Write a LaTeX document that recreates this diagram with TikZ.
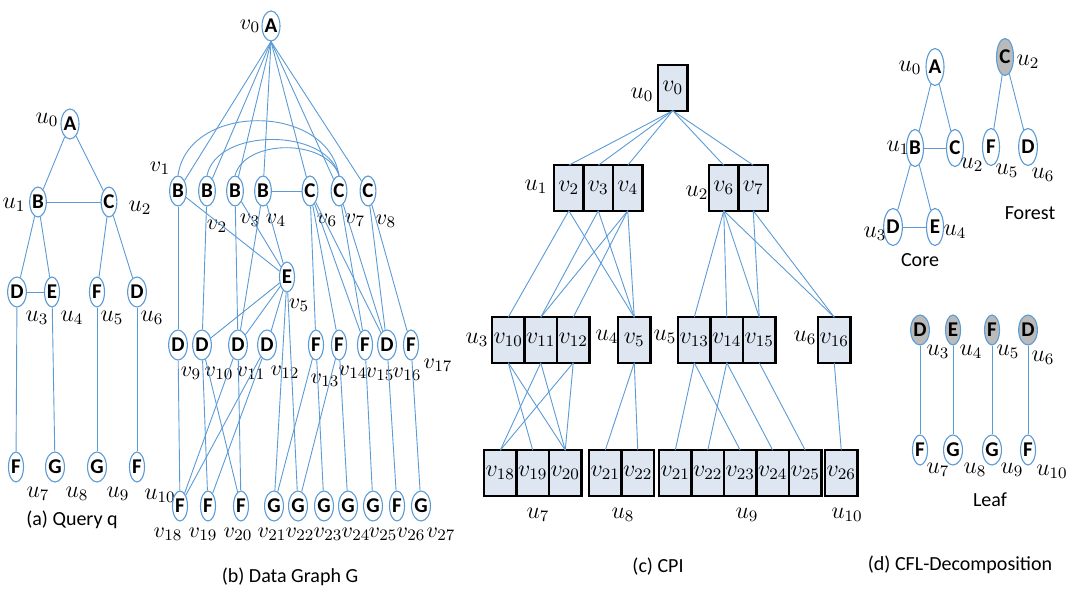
\documentclass[tikz,border=0pt]{standalone}
\usepackage{fontspec}
\setmainfont{Carlito}
\usetikzlibrary{positioning,shapes.geometric}
\definecolor{lineblue}{RGB}{91,155,213}
\definecolor{boxfill}{RGB}{221,230,241}
\tikzset{
  vtx/.style={ellipse,draw=lineblue,line width=.55pt,fill=white,inner sep=0pt,
    minimum width=7.5pt,minimum height=15pt,font=\fontsize{10.5}{11}\selectfont\bfseries},
  big/.style={minimum width=8.5pt,minimum height=18.5pt},
  dark/.style={fill=black!27},
  link/.style={draw=lineblue,line width=.45pt},
  lbl/.style={inner sep=0pt,font=\fontsize{11.5}{12}\selectfont},
  small/.style={font=\fontsize{10.8}{12}\selectfont},
  cand/.style={draw,line width=1.2pt,fill=boxfill,minimum width=16.25pt,minimum height=22.75pt,
    inner sep=0pt,outer sep=0pt,font=\fontsize{11.5}{12}\selectfont},
  slim/.style={minimum width=14.75pt},
  startpt/.style={inner sep=0pt,outer sep=0pt},
  title/.style={font=\fontsize{10}{12}\selectfont}
}
\begin{document}
\begin{tikzpicture}[x=.5pt,y=-.5pt]
\useasboundingbox (0,0) rectangle (1068,592);

% (a) query
\foreach \x/\y/\t[count=\i from 0] in {70/124/A,38/202/B,109/202/C,17/292/D,52/292/E,97/292/F,137/292/D,16/467/F,55/467/G,97/467/G,137/467/F}
  \node[vtx](q\i) at(\x,\y){\t};
\foreach \x/\y[count=\i from 0] in {47/120,14/205,140/208,37/318,72/318,112/318,152/318,38/494,77/494,118/494,160/496}
  \node[lbl](qu\i) at(\x,\y){$u_{\i}$};
\foreach \a/\b in {0/1,0/2,1/2,1/3,1/4,3/4,2/5,2/6,3/7,4/8,5/9,6/10}
  \draw[link](q\a)--(q\b);
\node[title](qcap) at(72,520){(a) Query q};

% (b) data graph
\foreach \i/\x/\y/\t in {0/271/26/A,1/178/191/B,2/207/191/B,3/235/191/B,4/263/191/B,5/287/277/E,6/310/191/C,7/339/191/C,8/368/191/C}
  \node[vtx](g\i) at(\x,\y){\t};
\foreach \x/\t[count=\i from 9] in {178/D,202/D,238/D,267/D,316/F,339/F,365/F,387/D,411/F}
  \node[vtx](g\i) at(\x,345){\t};
\foreach \x/\t[count=\i from 18] in {180/F,208/F,241/F,274/G,298/G,324/G,348/G,373/G,397/F,421/G}
  \node[vtx](g\i) at(\x,506){\t};
\foreach \i/\x/\y in {0/250/26,1/160/168,2/217/226,3/250/220,4/276/220,5/299/305,6/327/220,7/355/220,8/386/221,
    9/191/373,10/219/373,11/251/373,12/285/372,13/325/380,14/353/372,15/380/374,16/407/374,17/438/365,
    18/168/534,19/203/534,20/238/534,21/272/534,22/300/534,23/328/534,24/356/534,25/383/534,26/411/534,27/441/534}
  \node[lbl,small](gv\i) at(\x,\y){$v_{\i}$};
\foreach \b in {1,2,3,4,6,7,8}
  \draw[link](g0.south)--(g\b);
\foreach \a/\h in {1/73,2/48,3/37}
  \draw[link](g\a.north)..controls +(10,-\h) and +(-12,-\h)..(g7.north);
\foreach \a/\b in {4/6,1/9,1/5,2/10,3/11,3/5,4/11,4/5,5/10,5/11,5/12,5/21,5/22,6/13,6/14,6/15,6/16,7/15,7/16,8/16,8/17,
    9/18,10/19,10/20,11/18,11/20,12/18,12/19,13/21,13/23,14/22,14/24,15/25,16/26,17/27}
  \draw[link](g\a)--(g\b);
\node[title](gcap) at(290,577){(b) Data Graph G};

% (c) CPI
\node[startpt](c0-0) at(657,88){};
\foreach \v[count=\i from 0,evaluate=\i as\j using int(\i+1)] in {0}
  \node at(c0-\i.east)[cand,slim,anchor=west](c0-\j){$v_{\v}$};
\node[startpt](c1-0) at(553,188){};
\foreach \v[count=\i from 0,evaluate=\i as\j using int(\i+1)] in {2,3,4}
  \node at(c1-\i.east)[cand,slim,anchor=west](c1-\j){$v_{\v}$};
\node[startpt](c2-0) at(708,188){};
\foreach \v[count=\i from 0,evaluate=\i as\j using int(\i+1)] in {6,7}
  \node at(c2-\i.east)[cand,slim,anchor=west](c2-\j){$v_{\v}$};
\node[startpt](c3-0) at(491,340){};
\foreach \v[count=\i from 0,evaluate=\i as\j using int(\i+1)] in {10,11,12}
  \node at(c3-\i.east)[cand,anchor=west](c3-\j){$v_{\v}$};
\node[startpt](c4-0) at(617,340){};
\foreach \v[count=\i from 0,evaluate=\i as\j using int(\i+1)] in {5}
  \node at(c4-\i.east)[cand,anchor=west](c4-\j){$v_{\v}$};
\node[startpt](c5-0) at(677,340){};
\foreach \v[count=\i from 0,evaluate=\i as\j using int(\i+1)] in {13,14,15}
  \node at(c5-\i.east)[cand,anchor=west](c5-\j){$v_{\v}$};
\node[startpt](c6-0) at(817,340){};
\foreach \v[count=\i from 0,evaluate=\i as\j using int(\i+1)] in {16}
  \node at(c6-\i.east)[cand,anchor=west](c6-\j){$v_{\v}$};
\node[startpt](c7-0) at(483,473){};
\foreach \v[count=\i from 0,evaluate=\i as\j using int(\i+1)] in {18,19,20}
  \node at(c7-\i.east)[cand,anchor=west](c7-\j){$v_{\v}$};
\node[startpt](c8-0) at(588,473){};
\foreach \v[count=\i from 0,evaluate=\i as\j using int(\i+1)] in {21,22}
  \node at(c8-\i.east)[cand,anchor=west](c8-\j){$v_{\v}$};
\node[startpt](c9-0) at(658,473){};
\foreach \v[count=\i from 0,evaluate=\i as\j using int(\i+1)] in {21,22,23,24,25}
  \node at(c9-\i.east)[cand,anchor=west](c9-\j){$v_{\v}$};
\node[startpt](c10-0) at(824,473){};
\foreach \v[count=\i from 0,evaluate=\i as\j using int(\i+1)] in {26}
  \node at(c10-\i.east)[cand,anchor=west](c10-\j){$v_{\v}$};
\foreach \a/\b in {0-1/1-1,0-1/1-2,0-1/1-3,0-1/2-1,0-1/2-2,1-1/3-1,1-1/4-1,1-2/3-2,1-2/4-1,1-3/3-2,1-3/3-3,1-3/4-1,
    2-1/5-1,2-1/5-2,2-1/5-3,2-1/6-1,2-2/5-3,2-2/6-1,3-1/7-2,3-1/7-3,3-2/7-1,3-2/7-3,3-3/7-1,3-3/7-3,
    4-1/8-1,4-1/8-2,5-1/9-1,5-1/9-3,5-2/9-2,5-2/9-4,5-3/9-5,6-1/10-1}
  \draw[link](c\a.south)--(c\b.north);
\foreach \x/\y[count=\i from 0] in {642/95,536/187,697/193,477/340,607/337,665/337,805/338,538/515,623/515,747/515,847/515}
  \node[lbl](cu\i) at(\x,\y){$u_{\i}$};
\node[title](ccap) at(658,567){(c) CPI};

% (d) CFL-decomposition
\foreach \i/\x/\y/\t in {0/935/67/A,1/915/148/B,2/955/148/C,3/893/227/D,4/935/227/E}
  \node[vtx,big](d\i) at(\x,\y){\t};
\node[vtx,big,dark](f2) at(1005,57){C};
\node[vtx,big](f5) at(991,147){F};
\node[vtx,big](f6) at(1028,147){D};
\foreach \a/\b in {0/1,0/2,1/2,1/3,1/4,3/4}
  \draw[link](d\a)--(d\b);
\foreach \b in {5,6}
  \draw[link](f2)--(f\b);
\foreach \n/\x/\y/\k in {du0/910/68/0,du1/898/148/1,du2/972/165/2,du3/875/234/3,du4/955/232/4,fu2/1028/62/2,fu5/1007/171/5,fu6/1043/175/6}
  \node[lbl](\n) at(\x,\y){$u_{\k}$};
\node[title](core) at(920,260){Core};
\node[title](forest) at(1030,213){Forest};
\foreach \x/\t[count=\i from 3] in {920/D,953/E,992/F,1028/D}
  \node[vtx,dark](l\i) at(\x,330){\t};
\foreach \x/\t[count=\i from 7] in {920/F,953/G,992/G,1028/F}
  \node[vtx](l\i) at(\x,450){\t};
\foreach \i[evaluate=\i as\j using int(\i+4)] in {3,...,6}
  \draw[link](l\i)--(l\j);
\foreach \k/\x/\y in {3/938/352,4/971/352,5/1008/352,6/1043/358,7/938/470,8/975/470,9/1012/470,10/1052/472}
  \node[lbl](lu\k) at(\x,\y){$u_{\k}$};
\node[title](leaf) at(990,500){Leaf};
\node[title](dcap) at(960,565){(d) CFL-Decomposition};
\end{tikzpicture}
\end{document}
